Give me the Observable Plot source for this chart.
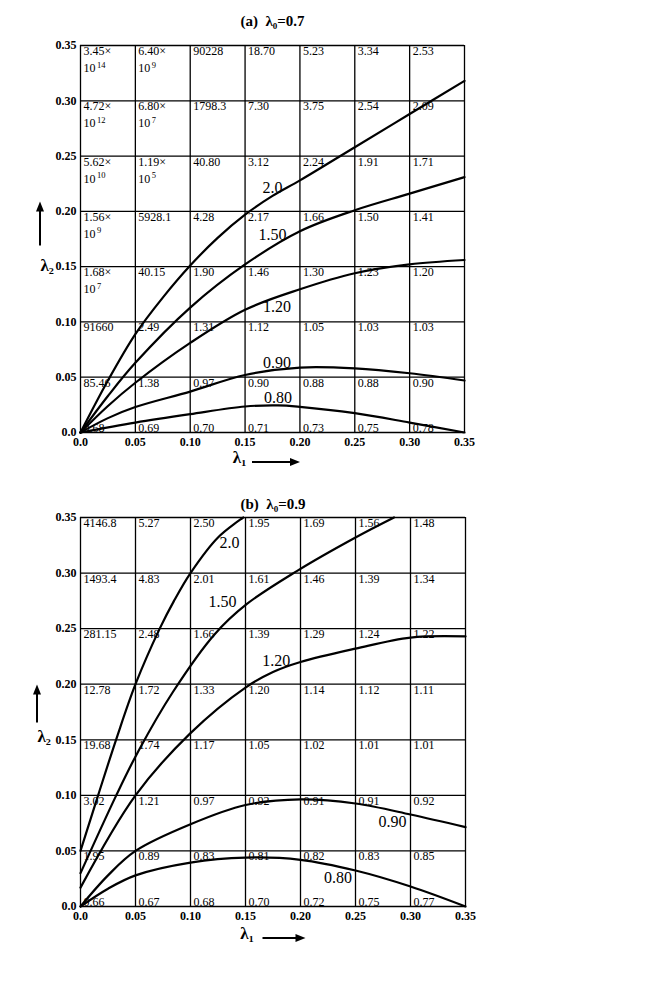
<!DOCTYPE html>
<html><head><meta charset="utf-8">
<script src="https://cdn.jsdelivr.net/npm/d3@7"></script>
<script src="https://cdn.jsdelivr.net/npm/@observablehq/plot@0.6"></script>
<style>
body{margin:0;background:#fff}
#chart svg{display:block}
</style>
</head><body><div id="chart"></div>
<script>
// ---------- shared axes ----------
const gridTicks = [0, 0.05, 0.10, 0.15, 0.20, 0.25, 0.30, 0.35];
const cellCols = [0, 0.05, 0.10, 0.15, 0.20, 0.25, 0.30];
const cellRows = [0.35, 0.30, 0.25, 0.20, 0.15, 0.10, 0.05, 0];

// ---------- panel (a) λ0 = 0.7 ----------
const titleA = "(a)  λ₀=0.7";
const cellsA = [
  ["3.45×10^14", "6.40×10^9", "90228", "18.70", "5.23", "3.34", "2.53"],
  ["4.72×10^12", "6.80×10^7", "1798.3", "7.30", "3.75", "2.54", "2.09"],
  ["5.62×10^10", "1.19×10^5", "40.80", "3.12", "2.24", "1.91", "1.71"],
  ["1.56×10^9", "5928.1", "4.28", "2.17", "1.66", "1.50", "1.41"],
  ["1.68×10^7", "40.15", "1.90", "1.46", "1.30", "1.23", "1.20"],
  ["91660", "2.49", "1.31", "1.12", "1.05", "1.03", "1.03"],
  ["85.46", "1.38", "0.97", "0.90", "0.88", "0.88", "0.90"],
  ["0.68", "0.69", "0.70", "0.71", "0.73", "0.75", "0.78"]
];
const curveA_20 = [[0,0],[0.025,0.047],[0.05,0.089],[0.075,0.122],[0.10,0.151],[0.125,0.176],[0.15,0.197],[0.175,0.214],[0.20,0.228],[0.25,0.258],[0.30,0.288],[0.35,0.318]];
const curveA_150 = [[0,0],[0.025,0.033],[0.05,0.063],[0.10,0.113],[0.15,0.152],[0.20,0.182],[0.25,0.201],[0.30,0.216],[0.35,0.231]];
const curveA_120 = [[0,0],[0.025,0.024],[0.05,0.045],[0.10,0.081],[0.15,0.111],[0.20,0.1295],[0.25,0.144],[0.30,0.152],[0.35,0.156]];
const curveA_090 = [[0,0],[0.025,0.013],[0.05,0.023],[0.10,0.037],[0.15,0.052],[0.20,0.0587],[0.25,0.058],[0.30,0.0536],[0.35,0.047]];
const curveA_080 = [[0,0],[0.05,0.009],[0.10,0.0166],[0.15,0.0235],[0.18,0.0245],[0.20,0.0232],[0.25,0.0175],[0.30,0.009],[0.35,0]];
const curveLabelsA = ["2.0", "1.50", "1.20", "0.90", "0.80"];
const curveLabelXA = [0.175, 0.175, 0.179, 0.179, 0.180];
const curveLabelYA = [0.221, 0.179, 0.114, 0.063, 0.031];

// ---------- panel (b) λ0 = 0.9 ----------
const titleB = "(b)  λ₀=0.9";
const cellsB = [
  ["4146.8", "5.27", "2.50", "1.95", "1.69", "1.56", "1.48"],
  ["1493.4", "4.83", "2.01", "1.61", "1.46", "1.39", "1.34"],
  ["281.15", "2.48", "1.66", "1.39", "1.29", "1.24", "1.22"],
  ["12.78", "1.72", "1.33", "1.20", "1.14", "1.12", "1.11"],
  ["19.68", "1.74", "1.17", "1.05", "1.02", "1.01", "1.01"],
  ["3.02", "1.21", "0.97", "0.92", "0.91", "0.91", "0.92"],
  ["1.95", "0.89", "0.83", "0.81", "0.82", "0.83", "0.85"],
  ["0.66", "0.67", "0.68", "0.70", "0.72", "0.75", "0.77"]
];
const curveB_20 = [[0,0.05],[0.016,0.10],[0.033,0.152],[0.05,0.20],[0.072,0.25],[0.085,0.275],[0.10,0.30],[0.125,0.332],[0.148,0.35]];
const curveB_150 = [[0,0.03],[0.0325,0.10],[0.0527,0.140],[0.084,0.193],[0.122,0.245],[0.151,0.272],[0.197,0.302],[0.25,0.332],[0.285,0.35]];
const curveB_120 = [[0,0.017],[0.05,0.10],[0.10,0.156],[0.15,0.197],[0.175,0.211],[0.20,0.220],[0.25,0.232],[0.30,0.242],[0.35,0.243]];
const curveB_090 = [[0,0],[0.025,0.028],[0.05,0.05],[0.10,0.074],[0.15,0.0913],[0.20,0.0964],[0.25,0.0927],[0.30,0.0828],[0.35,0.0714]];
const curveB_080 = [[0,0],[0.025,0.016],[0.05,0.028],[0.10,0.0395],[0.15,0.044],[0.20,0.042],[0.25,0.0324],[0.30,0.018],[0.35,0]];
const curveLabelsB = ["2.0", "1.50", "1.20", "0.90", "0.80"];
const curveLabelXB = [0.1355, 0.129, 0.178, 0.2836, 0.234];
const curveLabelYB = [0.327, 0.274, 0.221, 0.0765, 0.026];

const tickFmt = d => d === 0 ? "0.0" : d3.format(".2f")(d);
const SERIF = "Liberation Serif";

function cellTable(cells) {
  const out = [];
  cells.forEach((row, i) => row.forEach((raw, j) => {
    const m = raw.split("×10^");
    out.push({x: cellCols[j], y: cellRows[i], t: m.length > 1 ? m[0] + "×" : raw, base: m.length > 1 ? "10" : null, exp: m.length > 1 ? m[1] : null});
  }));
  return out;
}

// arrow decorations drawn relative to the plot frame
function axisArrows(geo) {
  return (index, scales, values, dims) => {
    const g = d3.create("svg:g");
    const left = dims.marginLeft, top = dims.marginTop;
    const bottom = dims.height - dims.marginBottom, right = dims.width - dims.marginRight;
    const midY = (top + bottom) / 2, midX = (left + right) / 2;
    const vx = left + geo.vdx, vTip = midY + geo.vTip, vEnd = midY + geo.vEnd;
    g.append("line").attr("x1", vx).attr("x2", vx).attr("y1", vEnd).attr("y2", vTip + 8)
      .attr("stroke", "black").attr("stroke-width", 2);
    g.append("path").attr("d", `M${vx},${vTip}L${vx - 4},${vTip + 10}L${vx + 4},${vTip + 10}Z`).attr("fill", "black");
    const hy = bottom + geo.hdy, hStart = midX + geo.hStart, hTip = midX + geo.hTip;
    g.append("line").attr("x1", hStart).attr("x2", hTip - 8).attr("y1", hy).attr("y2", hy)
      .attr("stroke", "black").attr("stroke-width", 2);
    g.append("path").attr("d", `M${hTip},${hy}L${hTip - 10},${hy - 4}L${hTip - 10},${hy + 4}Z`).attr("fill", "black");
    return g.node();
  };
}

function panel({title, cells, curves, labels, lx, ly, height, mt, mb, mr, geo}) {
  const table = cellTable(cells);
  const lab = labels.map((t, i) => ({t, x: lx[i], y: ly[i]}));
  const sci = table.filter(d => d.base);
  return Plot.plot({
    width: 667, height,
    marginLeft: 80, marginRight: mr, marginTop: mt, marginBottom: mb,
    style: {fontFamily: SERIF, fontSize: "12px", background: "white", color: "black"},
    x: {domain: [0, 0.35]},
    y: {domain: [0, 0.35]},
    marks: [
      Plot.ruleX(gridTicks, {stroke: "black", strokeWidth: 1.3}),
      Plot.ruleY(gridTicks, {stroke: "black", strokeWidth: 1.3}),
      Plot.axisY(gridTicks, {tickSize: 0, tickPadding: 4, tickFormat: tickFmt, fontWeight: "bold", fontSize: 12, fontFamily: SERIF, label: null}),
      Plot.axisX(gridTicks, {tickSize: 0, tickPadding: 5, tickFormat: tickFmt, fontWeight: "bold", fontSize: 12, fontFamily: SERIF, label: null}),
      Plot.text(table.filter(d => d.y > 0), {x: "x", y: "y", text: "t", textAnchor: "start", lineAnchor: "top", dx: 3, dy: 1, fontSize: 12, fontFamily: SERIF, fill: "black"}),
      Plot.text(sci, {x: "x", y: "y", text: "base", textAnchor: "start", lineAnchor: "top", dx: 3, dy: 18, fontSize: 12, fontFamily: SERIF, fill: "black"}),
      Plot.text(sci, {x: "x", y: "y", text: "exp", textAnchor: "start", lineAnchor: "top", dx: 16.5, dy: 16, fontSize: 8.5, fontFamily: SERIF, fill: "black"}),
      Plot.text(table.filter(d => d.y === 0), {x: "x", y: "y", text: "t", textAnchor: "start", lineAnchor: "bottom", dx: 3, dy: -1, fontSize: 12, fontFamily: SERIF, fill: "black"}),
      ...curves.map(c => Plot.line(c, {x: d => d[0], y: d => d[1], curve: "catmull-rom", stroke: "black", strokeWidth: 2.2})),
      Plot.text(lab, {x: "x", y: "y", text: "t", fontSize: 16, fontFamily: SERIF, fill: "black"}),
      Plot.text([title], {text: d => d, frameAnchor: "top", dy: geo.titleDy, fontSize: 15, fontWeight: "bold", fontFamily: SERIF, fill: "black"}),
      Plot.text(["λ₂"], {text: d => d, frameAnchor: "left", dx: geo.vdx, dy: geo.lamYdy, fontSize: 17, fontWeight: "bold", fontFamily: SERIF, fill: "black"}),
      Plot.text(["λ₁"], {text: d => d, frameAnchor: "bottom", dx: geo.lamXdx, dy: geo.hdy, fontSize: 17, fontWeight: "bold", fontFamily: SERIF, fill: "black"}),
      axisArrows(geo)
    ]
  });
}

const chart = document.getElementById("chart");
chart.append(panel({
  title: titleA, cells: cellsA,
  curves: [curveA_20, curveA_150, curveA_120, curveA_090, curveA_080],
  labels: curveLabelsA, lx: curveLabelXA, ly: curveLabelYA,
  height: 480, mt: 45, mb: 48, mr: 203,
  geo: {titleDy: -30, vdx: -40, lamYdy: 27, vTip: -37, vEnd: 7, hdy: 30, lamXdx: -33, hStart: -20, hTip: 28}
}));
chart.append(panel({
  title: titleB, cells: cellsB,
  curves: [curveB_20, curveB_150, curveB_120, curveB_090, curveB_080],
  labels: curveLabelsB, lx: curveLabelXB, ly: curveLabelYB,
  height: 510, mt: 37, mb: 84, mr: 202,
  geo: {titleDy: -19, vdx: -43, lamYdy: 25, vTip: -27, vEnd: 11, hdy: 32, lamXdx: -26, hStart: -10, hTip: 33}
}));
</script>
</body></html>
